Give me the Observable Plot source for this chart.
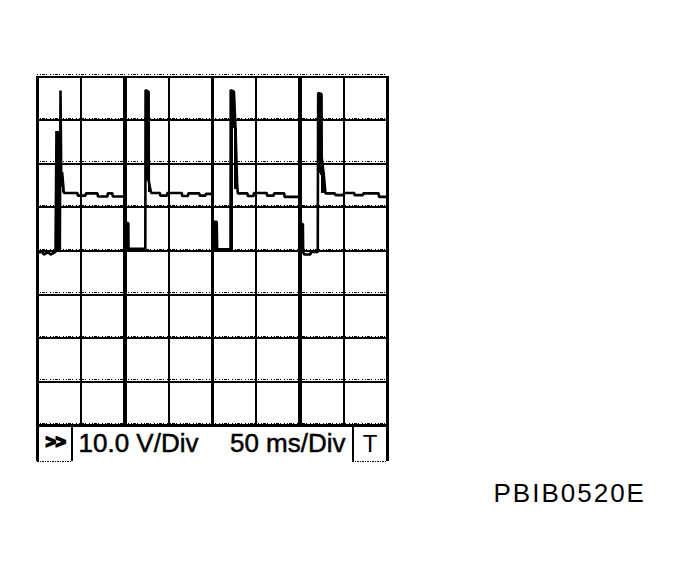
<!DOCTYPE html>
<html><head><meta charset="utf-8">
<script src="https://cdn.jsdelivr.net/npm/d3@7"></script>
<script src="https://cdn.jsdelivr.net/npm/@observablehq/plot@0.6"></script>
<style>
html,body{margin:0;padding:0;background:#fff;} svg{display:block}
</style>
</head><body><div id="chart"></div>
<script>
// Grid ticks (time in ms, 50 ms/div; voltage in V, 10 V/div)
const timeTicks = [0, 50, 100, 150, 200, 250, 300, 350, 400];
const voltTicks = [-40, -30, -20, -10, 0, 10, 20, 30, 40];

// Oscilloscope trace (time ms, volts)
const traceTime = [
  0, 6, 7, 12, 15, 20.6,
  21.7, 22.5, 23.5, 25.5, 26.3, 27.2, 28.2, 30.1,
  45.7, 46, 54.9, 55.2, 68.6, 69, 80, 80.3, 85.7, 86, 100,
  100.3, 103.8, 104, 123.2,
  123.5, 127, 127.2, 129.1, 130,
  140, 140.3, 148, 148.3, 165, 165.3, 172, 172.3, 185, 185.3, 192, 192.3, 199.8,
  200.1, 204.8, 205.3, 220.6,
  220.8, 224.5, 226.3, 228.2, 229,
  240, 240.3, 247, 247.3, 262, 262.3, 270, 270.3, 282, 282.3, 299.8,
  300.1, 303.3, 303.6, 305, 312, 312.3, 320.3,
  320.5, 320.8, 324.6, 324.8, 327.2, 329.1,
  340, 340.3, 350, 350.3, 362, 362.3, 372, 372.3, 390, 390.3, 400
];
const traceVolts = [
  -0.3, -0.3, -0.8, -0.3, -0.8, -0.2,
  27.5, 0, 27.5, 0, 36.8, 14.7, 18, 13.3,
  13.3, 12.7, 12.7, 13.2, 13.2, 12.5, 12.5, 13.2, 13.2, 12.5, 12.5,
  6.4, 6.4, 0.5, 0.5,
  36.9, 36.5, 16, 14, 13.3,
  13.3, 12.7, 12.7, 13.3, 13.3, 12.6, 12.6, 13.2, 13.2, 12.7, 12.7, 13.1, 13.1,
  6.7, 6.7, 0.4, 0.4,
  36.9, 36.5, 28, 15, 13.2,
  13.2, 12.6, 12.6, 13.3, 13.3, 12.7, 12.7, 13.2, 13.2, 12.4, 12.4,
  6.2, 6.2, -0.3, -0.8, -0.8, -0.2, -0.2,
  18.2, 36.2, 36, 21.5, 17.4, 13.2,
  13.2, 12.8, 12.8, 13.3, 13.3, 12.8, 12.8, 13.2, 13.2, 12.4, 12.4
];

// Dense ringing bursts that appear as filled blocks (time ms, volts)
const burstStart = [20.6, 21.7, 26.3, 28.2, 100, 123, 124, 127.2, 200, 220.6, 224.5, 225.5, 300, 320.8, 323.4, 324.6];
const burstEnd   = [22.5, 26.3, 28.2, 30.1, 104, 127.2, 127.2, 129.5, 205.3, 224.5, 226.3, 228.2, 303.6, 324.6, 327.2, 329.1];
const burstLow   = [0, 0, 14.7, 13.5, 0, 30.5, 16, 13.5, 0, 0, 28.1, 14, 0, 17.8, 17.4, 13.1];
const burstHigh  = [9.4, 27.5, 27.1, 18.1, 6.4, 36.9, 30.5, 16.3, 6.7, 36.9, 36.5, 28.1, 6.2, 36.2, 21.5, 17.9];

// Texts
const voltsPerDiv = ["10.0 V/Div"];
const timePerDiv = ["50 ms/Div"];
const runButton = [">>"];
const triggerButton = ["T"];
const figureCode = ["PBIB0520E"];

const trace = traceTime.map((t, i) => ({t, v: traceVolts[i]}));
const bursts = burstStart.map((s, i) => ({s, e: burstEnd[i], lo: burstLow[i], hi: burstHigh[i]}));

const barBottom = -48.25; // footer band depth below the grid (in volt units)
const font = "Liberation Sans, Arial, Helvetica, sans-serif";
const crisp = "crispEdges";

const chart = Plot.plot({
  width: 679,
  height: 587,
  marginLeft: 37,
  marginRight: 292,
  marginTop: 76,
  marginBottom: 162,
  x: {domain: [0, 400], axis: null},
  y: {domain: [-40, 40], axis: null},
  style: {background: "white", fontFamily: font},
  marks: [
    // horizontal grid fringe (dotted texture above lines)
    Plot.ruleY(voltTicks, {stroke: "black", strokeWidth: 1, dy: -2, strokeDasharray: "1 2 1 1 3 1 1 3", shapeRendering: crisp}),
    // horizontal grid
    Plot.ruleY(voltTicks, {stroke: "black", strokeWidth: d => d === -40 ? 3 : 2, shapeRendering: crisp}),
    // vertical grid
    Plot.ruleX(timeTicks, {stroke: "black", shapeRendering: crisp,
      strokeWidth: d => (d === 0 || d === 400) ? 3 : (d === 100 || d === 300) ? 4 : d === 200 ? 3 : 2}),
    // footer band edges
    Plot.ruleX([0, 400], {y1: -40, y2: barBottom, stroke: "black", strokeWidth: 3, shapeRendering: crisp}),
    Plot.ruleX([38.9, 360], {y1: -40, y2: barBottom, stroke: "black", strokeWidth: 2, shapeRendering: crisp}),
    Plot.ruleY([barBottom], {x1: 0, x2: 38.9, stroke: "black", strokeWidth: 1.5, strokeDasharray: "2 1 1 1", shapeRendering: crisp}),
    Plot.ruleY([barBottom], {x1: 360, x2: 400, stroke: "black", strokeWidth: 1.5, strokeDasharray: "2 1 1 1", shapeRendering: crisp}),
    // trace
    Plot.rect(bursts, {x1: "s", x2: "e", y1: "lo", y2: "hi", fill: "black", shapeRendering: crisp}),
    Plot.line(trace, {x: "t", y: "v", stroke: "black", strokeWidth: 2.6, strokeLinejoin: "miter", strokeLinecap: "butt"}),
    // footer texts
    Plot.text(voltsPerDiv, {text: d => d, frameAnchor: "bottom-left", textAnchor: "start", lineAnchor: "bottom",
      dx: 41, dy: 26.5, fontSize: 26, fill: "black", stroke: "black", strokeWidth: 0.5}),
    Plot.text(timePerDiv, {text: d => d, frameAnchor: "bottom-right", textAnchor: "end", lineAnchor: "bottom",
      dx: -42, dy: 26.5, fontSize: 26, fill: "black", stroke: "black", strokeWidth: 0.5}),
    Plot.text(runButton, {text: d => d, frameAnchor: "bottom-left", textAnchor: "middle", lineAnchor: "middle",
      dx: 18, dy: 17, fontSize: 18, fontWeight: "bold", fill: "black", stroke: "black", strokeWidth: 1.6}),
    Plot.text(triggerButton, {text: d => d, frameAnchor: "bottom-right", textAnchor: "middle", lineAnchor: "bottom",
      dx: -17.5, dy: 26.5, fontSize: 24, fill: "black"}),
    Plot.text(figureCode, {text: d => d, frameAnchor: "bottom-left", textAnchor: "start", lineAnchor: "bottom",
      dx: 456, dy: 76.7, fontSize: 26, fill: "black"})
  ]
});
// letter spacing tweaks for the figure code and the run button glyph
d3.select(chart).selectAll("text").each(function() {
  const s = this.textContent;
  if (s === figureCode[0]) this.setAttribute("letter-spacing", "2");
  if (s === runButton[0]) this.setAttribute("letter-spacing", "-0.5");
});
document.getElementById("chart").append(chart);
</script>
</body></html>
